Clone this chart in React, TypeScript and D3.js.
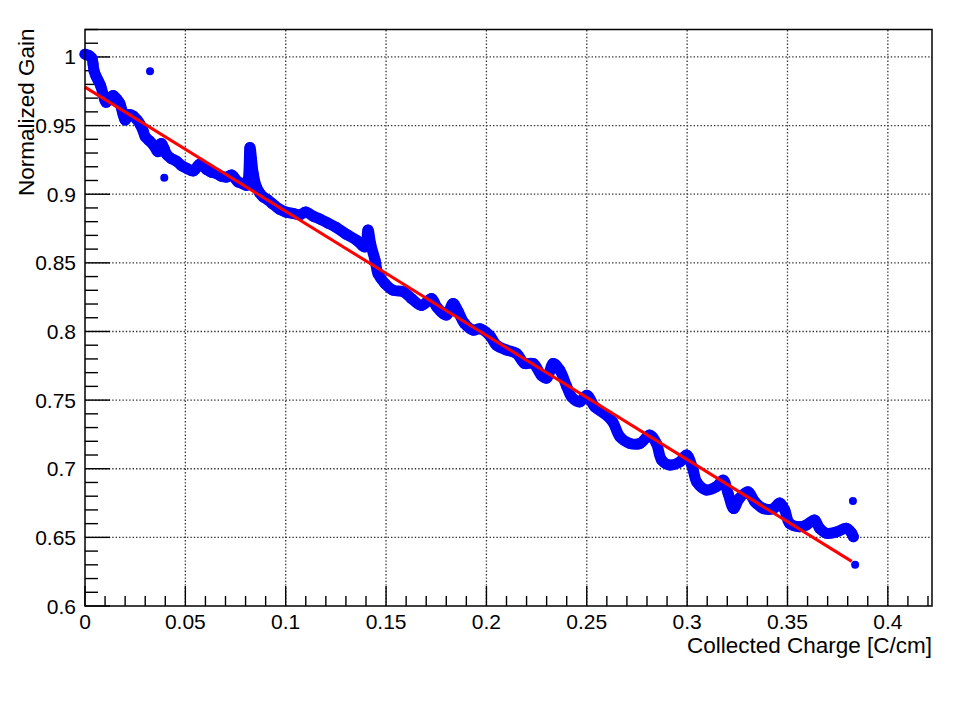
import React from 'react';
import * as d3 from 'd3';

// Collected charge [C/cm] and normalized gain
const chargeX = [
  0, 0.002, 0.0035, 0.004, 0.0045, 0.0055, 0.0065, 0.0078, 0.009, 0.0105, 0.012, 0.014, 0.016, 0.0174,
  0.019, 0.02, 0.022, 0.024, 0.026, 0.0274, 0.029, 0.03, 0.032, 0.034, 0.0364, 0.038, 0.0395, 0.0407,
  0.043, 0.0457, 0.048, 0.0506, 0.054, 0.0573, 0.0606, 0.063, 0.0656, 0.068, 0.0706, 0.073, 0.0762,
  0.078, 0.0805, 0.0822, 0.083, 0.0838, 0.0855, 0.087, 0.0888, 0.091, 0.093, 0.097, 0.1, 0.1036, 0.107,
  0.11, 0.1137, 0.117, 0.121, 0.125, 0.13, 0.1353, 0.1395, 0.141, 0.1423, 0.1445, 0.146, 0.1494, 0.1536,
  0.1586, 0.1627, 0.1677, 0.1727, 0.1752, 0.18, 0.1834, 0.186, 0.189, 0.1934, 0.1967, 0.2017, 0.205,
  0.21, 0.215, 0.219, 0.2233, 0.2274, 0.23, 0.2333, 0.2365, 0.24, 0.2424, 0.2465, 0.25, 0.254, 0.259,
  0.263, 0.2665, 0.2715, 0.2765, 0.2814, 0.2847, 0.2873, 0.2914, 0.2964, 0.2997, 0.303, 0.3047, 0.3096,
  0.3146, 0.318, 0.3204, 0.3232, 0.326, 0.3303, 0.3337, 0.338, 0.343, 0.3461, 0.3486, 0.351, 0.356,
  0.3594, 0.3635, 0.366, 0.3694, 0.3744, 0.3794, 0.382, 0.3828,
];
const gainY = [
  1.002, 1.001, 0.999, 0.995, 0.99, 0.986, 0.983, 0.979, 0.973, 0.967, 0.969, 0.972, 0.969, 0.966,
  0.958, 0.954, 0.958, 0.957, 0.954, 0.951, 0.946, 0.942, 0.939, 0.936, 0.931, 0.937, 0.933, 0.929,
  0.926, 0.924, 0.921, 0.919, 0.917, 0.922, 0.918, 0.916, 0.915, 0.913, 0.9125, 0.914, 0.909,
  0.908, 0.9065, 0.934, 0.925, 0.915, 0.905, 0.901, 0.898, 0.896, 0.8935, 0.889, 0.887, 0.886, 0.885,
  0.887, 0.884, 0.882, 0.879, 0.876, 0.871, 0.8665, 0.8616, 0.874, 0.864, 0.852, 0.842, 0.835, 0.83,
  0.829, 0.824, 0.819, 0.824, 0.818, 0.812, 0.8204, 0.8143, 0.806, 0.801, 0.802, 0.797, 0.79,
  0.7865, 0.784, 0.7767, 0.7767, 0.768, 0.766, 0.7767, 0.772, 0.76, 0.7524, 0.7487, 0.7536, 0.745, 0.74,
  0.734, 0.7233, 0.7184, 0.7184, 0.7245, 0.7184, 0.7063, 0.7027, 0.705, 0.71, 0.699, 0.6905, 0.6845,
  0.687, 0.6917, 0.682, 0.671, 0.6784, 0.6832, 0.676, 0.671, 0.671, 0.675, 0.67, 0.6602, 0.6577,
  0.659, 0.6626, 0.6566, 0.653, 0.654, 0.6566, 0.653, 0.6505,
];
const outlierX = [0.0324, 0.0395, 0.3826, 0.3837];
const outlierY = [0.9895, 0.912, 0.6765, 0.63];

// linear fit endpoints
const fitX = [0, 0.382];
const fitY = [0.978, 0.6325];

const xTicks = [0, 0.05, 0.1, 0.15, 0.2, 0.25, 0.3, 0.35, 0.4];
const xTickLabels = ['0', '0.05', '0.1', '0.15', '0.2', '0.25', '0.3', '0.35', '0.4'];
const yTicks = [0.6, 0.65, 0.7, 0.75, 0.8, 0.85, 0.9, 0.95, 1.0];
const yTickLabels = ['0.6', '0.65', '0.7', '0.75', '0.8', '0.85', '0.9', '0.95', '1'];

const W = 960;
const H = 720;
const left = 85, right = 932, top = 29.5, bottom = 606;
const font = '"Liberation Sans", Arial, Helvetica, sans-serif';

const App: React.FC = () => {
  const x = d3.scaleLinear().domain([0, 0.422]).range([left, right]);
  const y = d3.scaleLinear().domain([0.6, 1.02]).range([bottom, top]);

  const pts: [number, number][] = chargeX.map((c, i) => [c, gainY[i]]);
  const trace = d3.line<[number, number]>()
    .x(d => x(d[0]))
    .y(d => y(d[1]))
    .curve(d3.curveCatmullRom.alpha(0.5));
  const fitLine = d3.line<number>()
    .x(d => x(d))
    .y((d, i) => y(fitY[i]));

  const xMinor = d3.range(0, 43).map(i => i * 0.01).filter(v => v <= 0.422);
  const yMinor = d3.range(60, 103).map(i => i / 100).filter(v => v <= 1.02);

  return (
    <svg width={W} height={H} style={{ position: 'absolute', left: 0, top: 0, background: '#fff' }}>
      {/* grid */}
      <g stroke="#333" strokeWidth={1.3} strokeDasharray="1.4,2">
        {xTicks.slice(1).map(t => (
          <line key={'gx' + t} x1={x(t)} x2={x(t)} y1={bottom} y2={top} />
        ))}
        {yTicks.slice(1).map(t => (
          <line key={'gy' + t} x1={left} x2={right} y1={y(t)} y2={y(t)} />
        ))}
      </g>

      {/* ticks */}
      <g stroke="#000" strokeWidth={1.4}>
        {xMinor.map((t, i) => (
          <line key={'tx' + i} x1={x(t)} x2={x(t)} y1={bottom} y2={bottom - (i % 5 === 0 ? 20 : 10)} />
        ))}
        {yMinor.map((t, i) => (
          <line key={'ty' + i} x1={left} x2={left + (i % 5 === 0 ? 25 : 13)} y1={y(t)} y2={y(t)} />
        ))}
      </g>

      {/* data */}
      <path d={trace(pts) ?? ''} fill="none" stroke="#0000ff" strokeWidth={11} strokeLinecap="round" strokeLinejoin="round" />
      {pts.map((d, i) => (
        <circle key={'p' + i} cx={x(d[0])} cy={y(d[1])} r={5.5} fill="#0000ff" />
      ))}
      {outlierX.map((c, i) => (
        <circle key={'o' + i} cx={x(c)} cy={y(outlierY[i])} r={4} fill="#0000ff" />
      ))}
      <path d={fitLine(fitX) ?? ''} fill="none" stroke="#ff0000" strokeWidth={3} />

      {/* frame */}
      <rect x={left} y={top} width={right - left} height={bottom - top} fill="none" stroke="#000" strokeWidth={1.5} />

      {/* tick labels */}
      <g fontFamily={font} fontSize={21} fill="#000">
        {xTicks.map((t, i) => (
          <text key={'lx' + t} x={x(t)} y={628.5} textAnchor="middle">{xTickLabels[i]}</text>
        ))}
        {yTicks.map((t, i) => (
          <text key={'ly' + t} x={76} y={y(t) + 7.5} textAnchor="end">{yTickLabels[i]}</text>
        ))}
      </g>

      {/* axis titles */}
      <text x={right} y={652.5} textAnchor="end" fontFamily={font} fontSize={22.5}>Collected Charge [C/cm]</text>
      <text transform={`translate(34,${top - 1}) rotate(-90)`} textAnchor="end" fontFamily={font} fontSize={22.5}>Normalized Gain</text>
    </svg>
  );
};

export default App;
